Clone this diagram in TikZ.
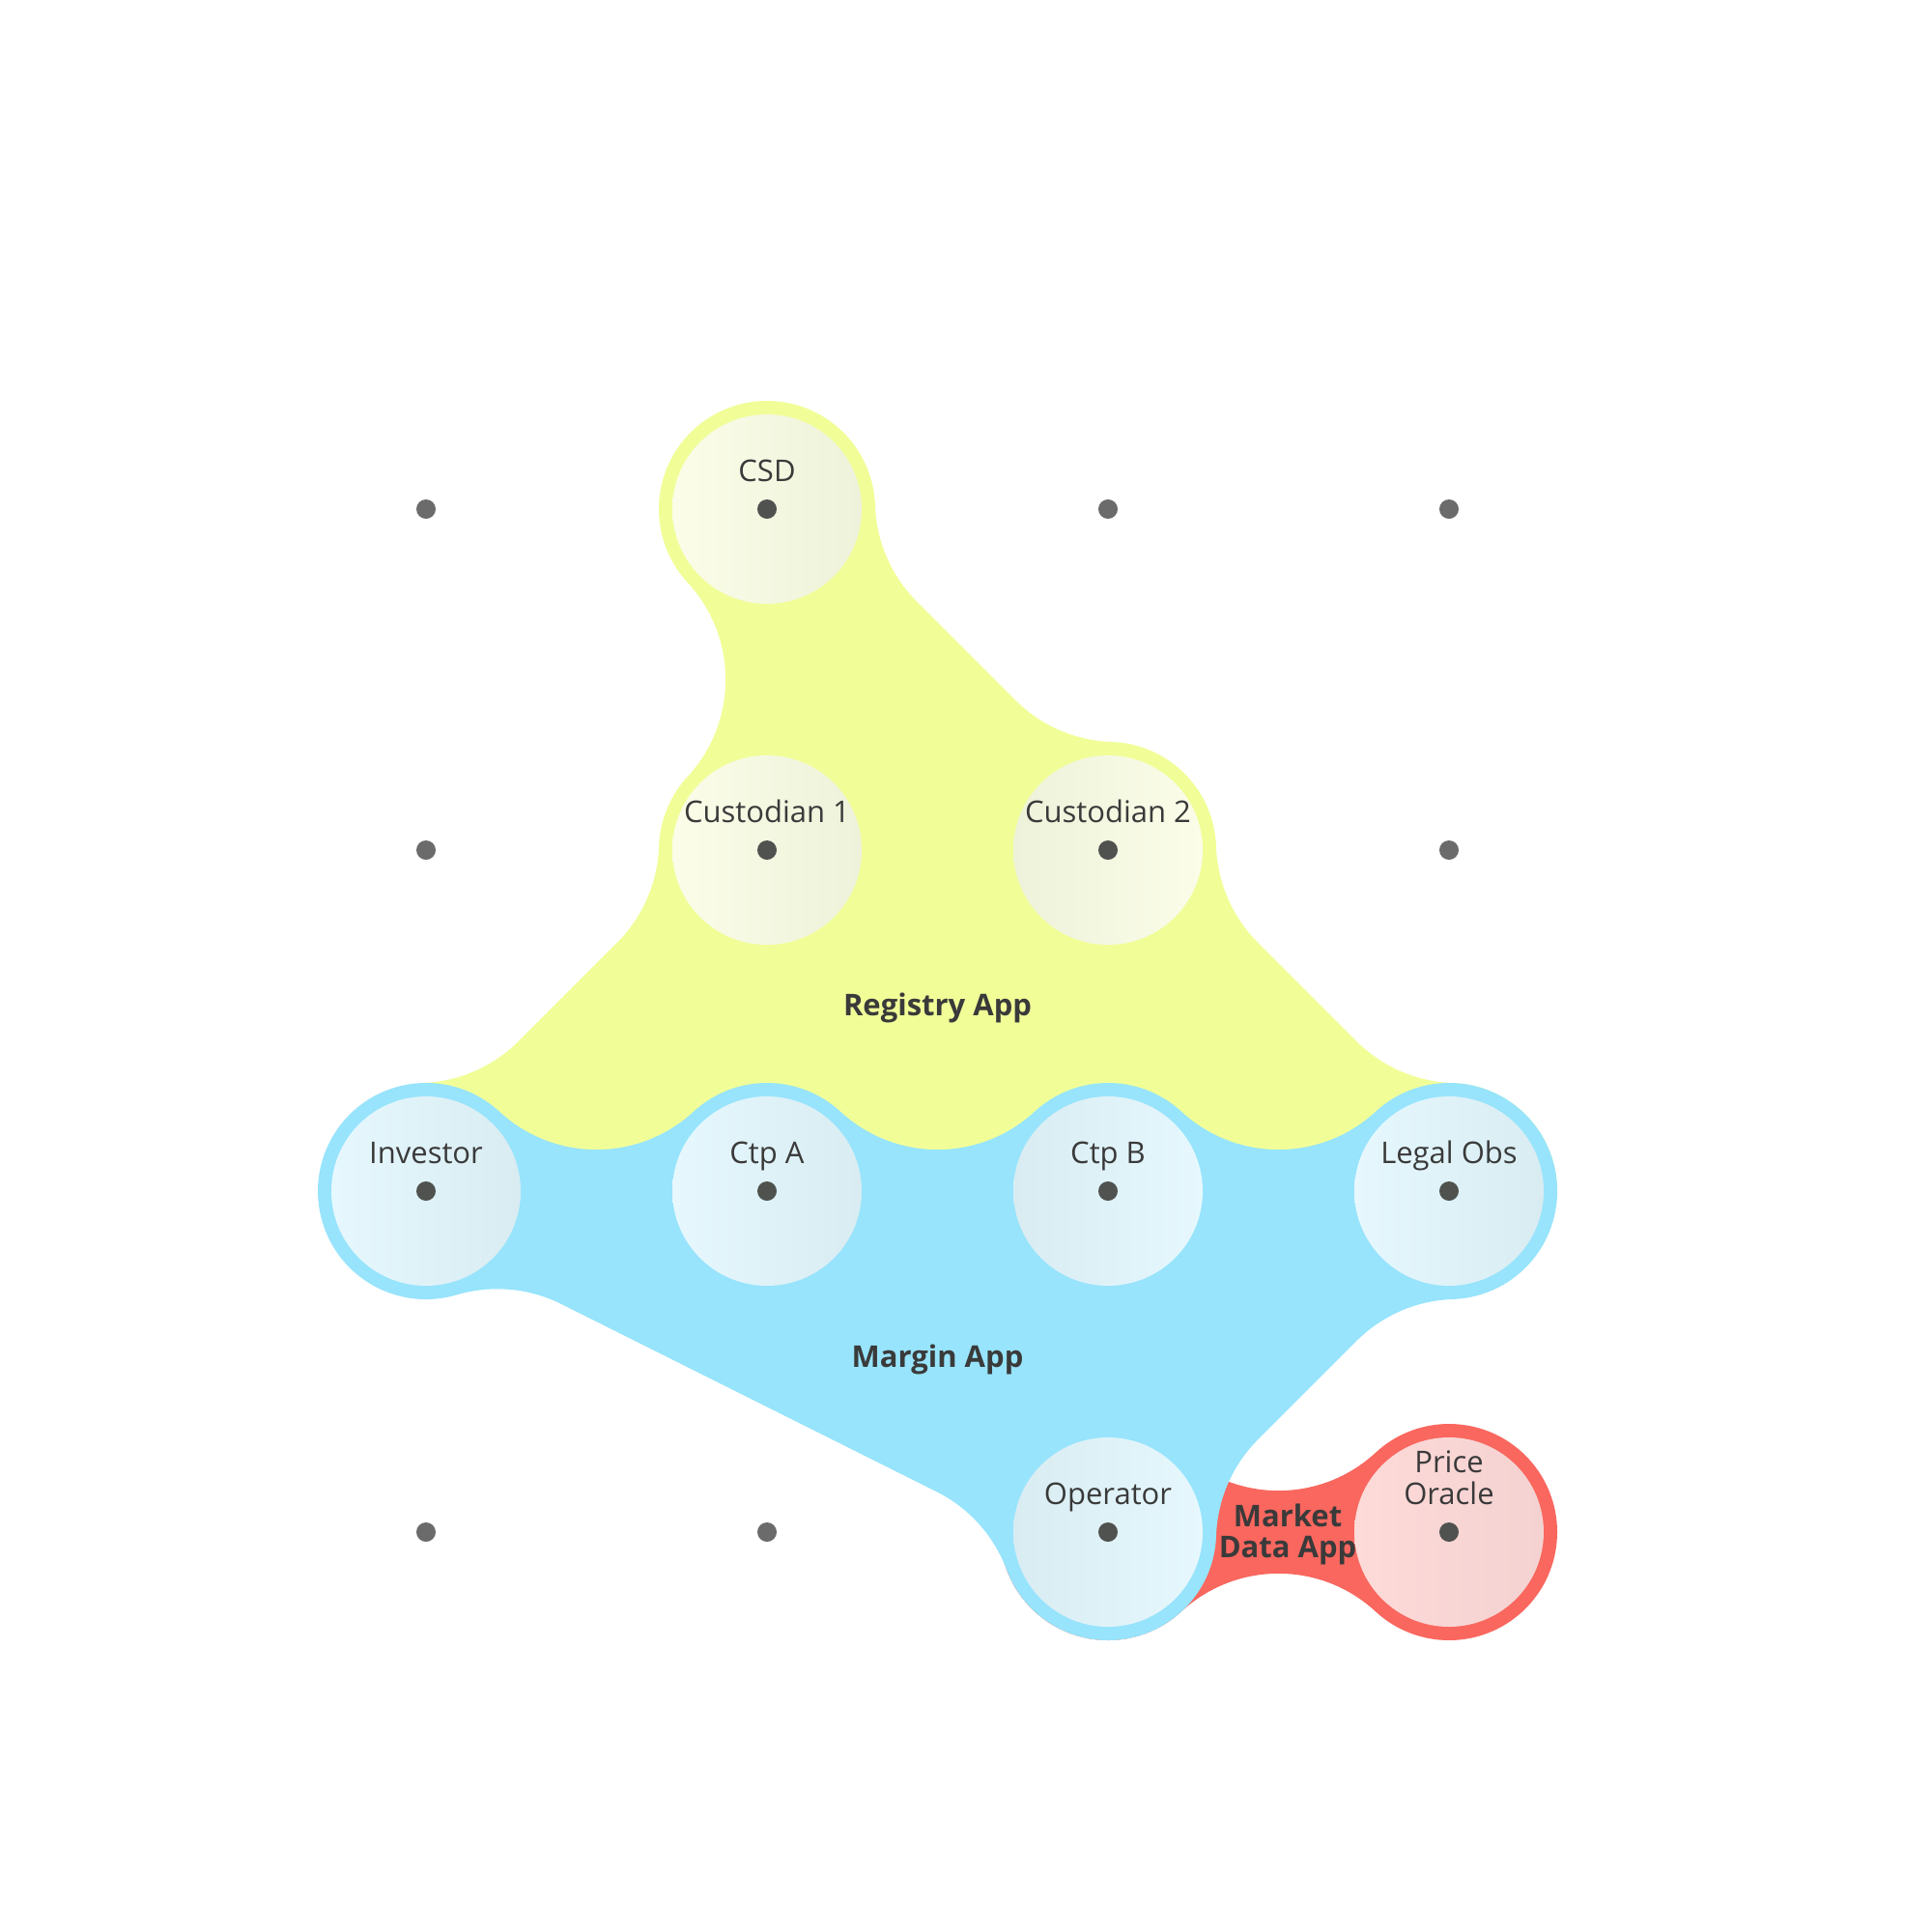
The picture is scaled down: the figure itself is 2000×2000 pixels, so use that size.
\documentclass[tikz,border=0pt]{standalone}
\usepackage{fontspec}
\setmainfont{Open Sans}
\usetikzlibrary{calc}
\definecolor{yblob}{HTML}{F1FE98}
\definecolor{bblob}{HTML}{97E4FC}
\definecolor{rblob}{HTML}{F9675F}
\definecolor{yinL}{HTML}{FBFDE8}
\definecolor{yinR}{HTML}{EEF2DA}
\definecolor{binL}{HTML}{E6F8FE}
\definecolor{binR}{HTML}{D8ECF2}
\definecolor{rinL}{HTML}{FEDAD8}
\definecolor{rinR}{HTML}{F3D2D1}
\definecolor{dotc}{HTML}{4F524F}
\definecolor{gridc}{HTML}{6B6B6B}
\definecolor{txt}{HTML}{3A3A3A}
\begin{document}
\begin{tikzpicture}[x=1pt,y=1pt,
  inner/.style={circle,minimum size=196pt,inner sep=0pt,draw=none},
  yin/.style={inner,left color=yinL,right color=yinR},
  yinr/.style={inner,left color=yinR,right color=yinL},
  bin/.style={inner,left color=binL,right color=binR},
  binr/.style={inner,left color=binR,right color=binL},
  rin/.style={inner,left color=rinL,right color=rinR},
  lbl/.style={anchor=base,text=txt,font=\fontsize{31}{33}\selectfont,inner sep=0pt,align=center},
  applbl/.style={anchor=base,text=txt,font=\bfseries\fontsize{31}{32}\selectfont,inner sep=0pt,align=center},
  nodedot/.style={fill=dotc},
  griddot/.style={fill=gridc}]
\useasboundingbox (0,0) rectangle (2000,-2000);
\fill[white] (0,0) rectangle (2000,-2000);
% centres
\coordinate (csd) at (794,-527);
\coordinate (cu1) at (794,-880);
\coordinate (cu2) at (1147,-880);
\coordinate (inv) at (441,-1233);
\coordinate (cta) at (794,-1233);
\coordinate (ctb) at (1147,-1233);
\coordinate (lo) at (1500,-1233);
\coordinate (op) at (1147,-1586);
\coordinate (po) at (1500,-1586);
% empty grid positions
\coordinate (g1) at (441,-527);
\coordinate (g2) at (1147,-527);
\coordinate (g3) at (1500,-527);
\coordinate (g4) at (441,-880);
\coordinate (g5) at (1500,-880);
\coordinate (g6) at (441,-1586);
\coordinate (g7) at (794,-1586);
% Registry App blob
\fill[yblob] ($(inv)+(91.94:112)$)
  arc[start angle=271.94, end angle=315, radius=148]
  -- ++(45:144.2)
  arc[start angle=315, end angle=358.06, radius=148]
  arc[start angle=178.06, end angle=137.24, radius=112]
  arc[start angle=317.24, end angle=402.76, radius=148]
  arc[start angle=222.76, end angle=1.94, radius=112]
  arc[start angle=181.94, end angle=225, radius=148]
  -- ++(-45:144.2)
  arc[start angle=225, end angle=268.06, radius=148]
  arc[start angle=88.06, end angle=1.94, radius=112]
  arc[start angle=181.94, end angle=225, radius=148]
  -- ++(-45:144.2)
  arc[start angle=225, end angle=268.06, radius=148]
  arc[start angle=88.06, end angle=0, radius=112]
  -- (lo) -- (inv) -- cycle;
% Market Data App blob
\fill[rblob] ($(op)+(47.24:112)$)
  arc[start angle=227.24, end angle=312.76, radius=148]
  arc[start angle=132.76, end angle=-132.76, radius=112]
  arc[start angle=407.24, end angle=492.76, radius=148]
  arc[start angle=312.76, end angle=47.24, radius=112]
  -- cycle;
% Margin App blob
\fill[bblob] ($(inv)+(47.24:112)$)
  arc[start angle=227.24, end angle=312.76, radius=148]
  arc[start angle=132.76, end angle=47.24, radius=112]
  arc[start angle=227.24, end angle=312.76, radius=148]
  arc[start angle=132.76, end angle=47.24, radius=112]
  arc[start angle=227.24, end angle=312.76, radius=148]
  arc[start angle=132.76, end angle=-88.06, radius=112]
  arc[start angle=91.94, end angle=135, radius=148]
  -- ++(-135:144.2)
  arc[start angle=135, end angle=178.06, radius=148]
  arc[start angle=-1.94, end angle=-159.625, radius=112]
  arc[start angle=380.375, end angle=423.435, radius=148]
  -- ++(153.435:434.34)
  arc[start angle=423.435, end angle=466.495, radius=148]
  arc[start angle=286.495, end angle=47.24, radius=112]
  -- cycle;
% inner discs
\node[yin]  (ncsd) at (csd) {};
\node[yin]  (ncu1) at (cu1) {};
\node[yinr] (ncu2) at (cu2) {};
\node[bin]  (ninv) at (inv) {};
\node[bin]  (ncta) at (cta) {};
\node[binr] (nctb) at (ctb) {};
\node[bin]  (nlo)  at (lo)  {};
\node[binr] (nop)  at (op)  {};
\node[rin]  (npo)  at (po)  {};
% dots
\foreach \c in {csd,cu1,cu2,inv,cta,ctb,lo,op,po} {\fill[nodedot] (\c) circle (10);}
\foreach \c in {g1,g2,g3,g4,g5,g6,g7} {\fill[griddot] (\c) circle (10);}
% labels
\node[lbl] (lcsd) at ($(csd)+(0,29)$) {CSD};
\node[lbl] (lcu1) at ($(cu1)+(0,29)$) {Custodian 1};
\node[lbl] (lcu2) at ($(cu2)+(0,29)$) {Custodian 2};
\node[lbl] (linv) at ($(inv)+(0,29)$) {Investor};
\node[lbl] (lcta) at ($(cta)+(0,29)$) {Ctp A};
\node[lbl] (lctb) at ($(ctb)+(0,29)$) {Ctp B};
\node[lbl] (llo)  at ($(lo)+(0,29)$) {Legal Obs};
\node[lbl] (lop)  at ($(op)+(0,29)$) {Operator};
\node[lbl] (lpo)  at ($(po)+(0,29)$) {Price\\Oracle};
\node[applbl] (reg) at (970.5,-1051.7) {Registry App};
\node[applbl] (mar) at (970.5,-1415) {Margin App};
\node[applbl] (mkt) at (1333,-1612) {Market\\Data App};
\end{tikzpicture}
\end{document}
